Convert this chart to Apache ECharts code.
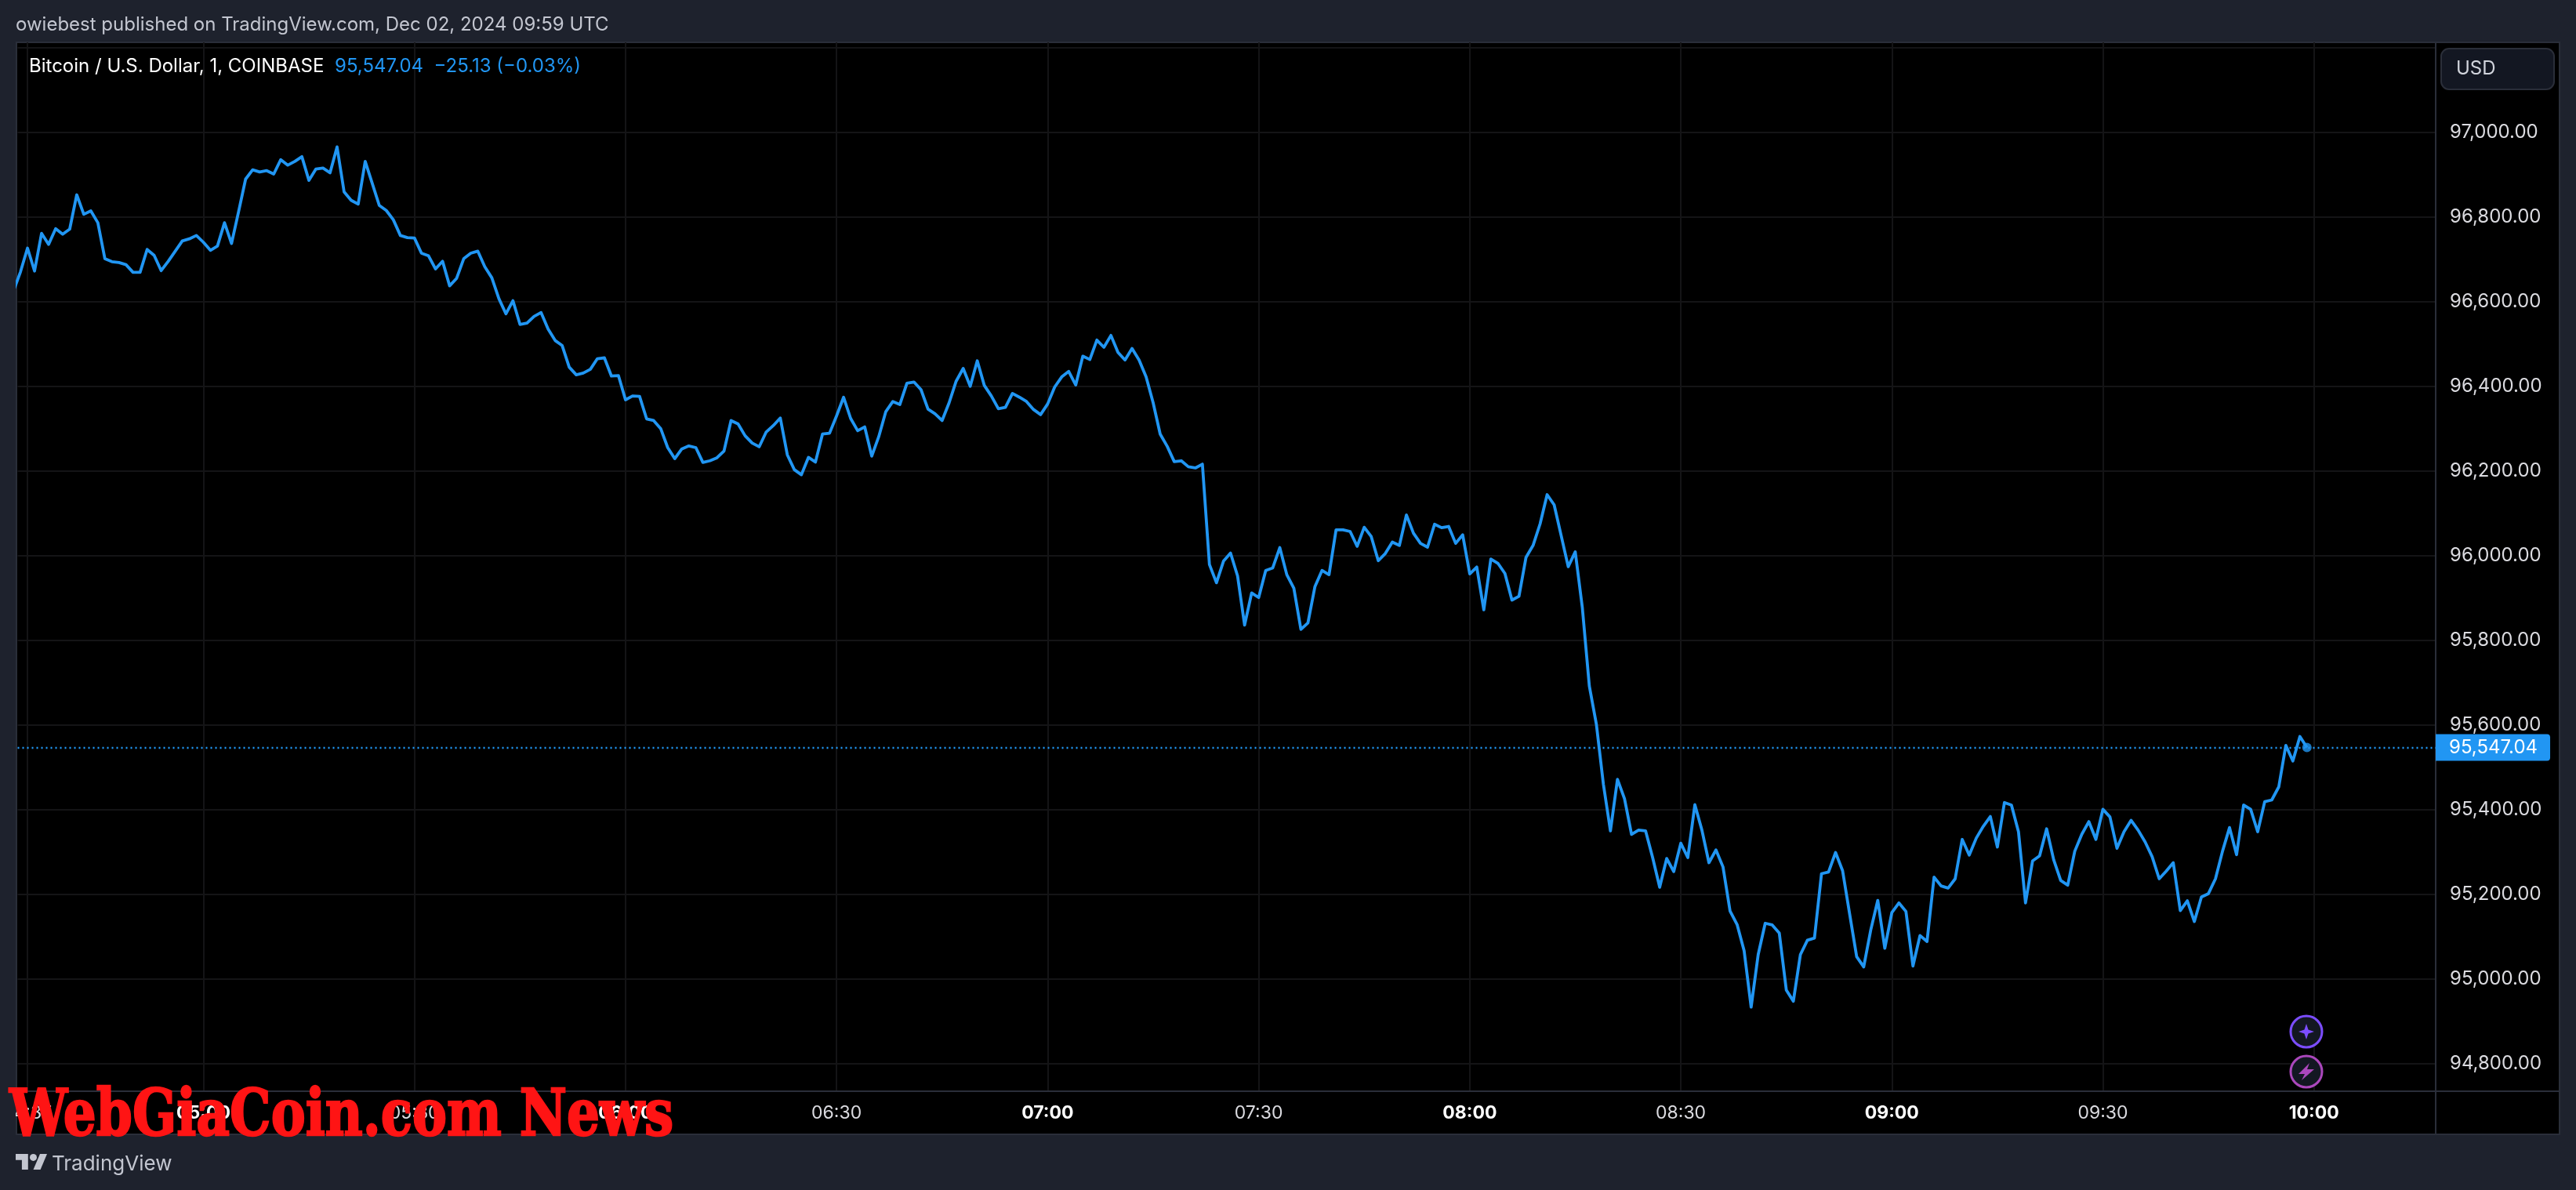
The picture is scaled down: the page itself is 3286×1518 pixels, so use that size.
<!DOCTYPE html>
<html>
<head>
<meta charset="utf-8">
<title>Bitcoin / U.S. Dollar</title>
<style>
  html, body { margin: 0; padding: 0; background: #1e222d; }
  #chart { width: 3286px; height: 1518px; }
</style>
<script src="https://cdn.jsdelivr.net/npm/echarts@6/dist/echarts.min.js"></script>
</head>
<body>
<div id="chart"></div>
<script>
"use strict";

// 1 minute closes, one array per hour.
var closes04 = [96625, 96670, 96726, 96672, 96761, 96735, 96772, 96759, 96771, 96852, 96806, 96814, 96786, 96701,
  96694, 96692, 96687, 96669, 96669, 96723, 96709, 96673, 96695, 96719, 96743, 96748, 96756];
var closes05 = [96740, 96721, 96731, 96786, 96737, 96812, 96889, 96911, 96906, 96909,
  96901, 96935, 96922, 96931, 96942, 96886, 96913, 96915, 96904, 96965,
  96859, 96839, 96830, 96931, 96879, 96827, 96815, 96793, 96756, 96751,
  96750, 96714, 96708, 96677, 96695, 96637, 96655, 96701, 96714, 96719,
  96682, 96656, 96607, 96571, 96602, 96546, 96549, 96565, 96574, 96535,
  96508, 96496, 96445, 96427, 96431, 96440, 96465, 96467, 96424, 96425];
var closes06 = [96368, 96377, 96376, 96323, 96319, 96300, 96255, 96229, 96252, 96259,
  96255, 96220, 96224, 96231, 96247, 96319, 96311, 96283, 96266, 96257,
  96292, 96307, 96325, 96238, 96203, 96191, 96232, 96221, 96287, 96289,
  96330, 96374, 96324, 96295, 96304, 96235, 96281, 96340, 96364, 96357,
  96407, 96410, 96392, 96346, 96335, 96319, 96361, 96412, 96442, 96400,
  96460, 96402, 96377, 96347, 96350, 96383, 96374, 96364, 96345, 96333];
var closes07 = [96358, 96398, 96422, 96435, 96403, 96471, 96463, 96509, 96492, 96520,
  96480, 96462, 96489, 96462, 96422, 96361, 96287, 96258, 96222, 96224,
  96210, 96207, 96216, 95979, 95936, 95987, 96006, 95952, 95836, 95912,
  95901, 95965, 95971, 96019, 95955, 95923, 95826, 95841, 95927, 95965,
  95955, 96061, 96061, 96057, 96022, 96067, 96045, 95988, 96005, 96032,
  96024, 96096, 96053, 96029, 96020, 96074, 96066, 96069, 96029, 96049];
var closes08 = [95957, 95973, 95872, 95992, 95982, 95958, 95895, 95904, 95996, 96024,
  96075, 96144, 96120, 96047, 95974, 96009, 95878, 95692, 95602, 95460,
  95350, 95472, 95426, 95342, 95352, 95350, 95287, 95217, 95285, 95254,
  95321, 95287, 95412, 95352, 95275, 95305, 95265, 95161, 95129, 95067,
  94934, 95058, 95132, 95128, 95109, 94974, 94948, 95058, 95092, 95097,
  95249, 95253, 95299, 95256, 95154, 95053, 95029, 95116, 95186, 95073];
var closes09 = [95157, 95180, 95160, 95031, 95103, 95089, 95241, 95220, 95215, 95237,
  95330, 95293, 95333, 95361, 95384, 95312, 95417, 95411, 95348, 95180,
  95279, 95291, 95355, 95282, 95233, 95222, 95302, 95342, 95372, 95330,
  95401, 95383, 95309, 95348, 95375, 95352, 95324, 95289, 95237, 95255,
  95275, 95162, 95185, 95136, 95194, 95202, 95237, 95302, 95358, 95294,
  95411, 95401, 95348, 95419, 95423, 95454, 95552, 95515, 95573, 95547.04];

var firstMinute = 4 * 60 + 33;
var lastClose = 95547.04;
var lastCloseLabel = '95,547.04';

// Axis ticks, time is minutes since midnight UTC.
var timeTicks = [275, 300, 330, 360, 390, 420, 450, 480, 510, 540, 570, 600];
var gridPrices = [94800, 95000, 95200, 95400, 95600, 95800, 96000, 96200, 96400, 96600, 96800, 97000, 97200];
var labelPrices = [94800, 95000, 95200, 95400, 95600, 95800, 96000, 96200, 96400, 96600, 96800, 97000];

var publishedText = 'owiebest published on TradingView.com, Dec 02, 2024 09:59 UTC';
var symbolText = 'Bitcoin / U.S. Dollar, 1, COINBASE';
var quoteText = '95,547.04  \u221225.13 (\u22120.03%)';
var watermarkText = 'WebGiaCoin.com News';

var BLUE = '#2196f3';
var FRAME = '#2a2e39';
var GRIDLINE = '#141416';
var SANS = 'Inter, "Noto Sans", sans-serif';

var closes = closes04.concat(closes05, closes06, closes07, closes08, closes09);
var linePoints = closes.map(function (close, i) {
  return [firstMinute + i, close];
});
var lastPoint = linePoints[linePoints.length - 1];

function pad(n) {
  return (n < 10 ? '0' : '') + n;
}

function formatTime(minutes) {
  var text = pad(Math.floor(minutes / 60)) + ':' + pad(minutes % 60);
  return minutes % 60 === 0 ? '{hour|' + text + '}' : '{plain|' + text + '}';
}

function formatPrice(value) {
  return value.toLocaleString('en-US', { minimumFractionDigits: 2, maximumFractionDigits: 2 });
}

function frameLine(x1, y1, x2, y2, z) {
  return {
    type: 'line',
    z: z,
    silent: true,
    shape: { x1: x1, y1: y1, x2: x2, y2: y2 },
    style: { stroke: FRAME, lineWidth: 2 }
  };
}

function badge(cy, ringColor, glyphPoints) {
  return [{
    type: 'circle',
    z: 30,
    shape: { cx: 2942, cy: cy, r: 20 },
    style: { fill: '#131722', stroke: ringColor, lineWidth: 3 }
  }, {
    type: 'polygon',
    z: 31,
    shape: {
      points: glyphPoints.map(function (p) {
        return [2942 + p[0], cy + p[1]];
      })
    },
    style: { fill: ringColor }
  }];
}

var starGlyph = [[0, -10], [2.5, -2.5], [10, 0], [2.5, 2.5], [0, 10], [-2.5, 2.5], [-10, 0], [-2.5, -2.5]];
var boltGlyph = [[4, -11], [-10, 3], [-2, 3], [-6, 11], [10, -3], [1, -3]];

var graphicElements = [
  // panel behind chart and both axis strips
  {
    type: 'rect',
    z: -10,
    shape: { x: 21, y: 54, width: 3244, height: 1393 },
    style: { fill: '#000000', stroke: FRAME, lineWidth: 2 }
  },
  frameLine(3107, 1392, 3107, 1447, 5),
  frameLine(3107, 1392, 3265, 1392, 5),
  // hides the part of the first time label that runs off the panel
  {
    type: 'rect',
    z: 20,
    shape: { x: 0, y: 1395, width: 20, height: 50 },
    style: { fill: '#1e222d' }
  },
  {
    type: 'text',
    z: 40,
    x: 20,
    y: 32,
    style: { text: publishedText, fill: '#c3c6d0', font: '400 24px ' + SANS, textVerticalAlign: 'middle' }
  },
  {
    type: 'text',
    z: 40,
    x: 37,
    y: 85,
    style: { text: symbolText, fill: '#ffffff', font: '400 24px ' + SANS, textVerticalAlign: 'middle' }
  },
  {
    type: 'text',
    z: 40,
    x: 427,
    y: 85,
    style: { text: quoteText, fill: BLUE, font: '400 24px ' + SANS, textVerticalAlign: 'middle' }
  },
  // currency button
  {
    type: 'rect',
    z: 10,
    shape: { x: 3114, y: 62, width: 144, height: 52, r: 10 },
    style: { fill: '#131722', stroke: FRAME, lineWidth: 2 }
  },
  {
    type: 'text',
    z: 11,
    x: 3133,
    y: 88,
    style: { text: 'USD', fill: '#d1d4dc', font: '400 24px ' + SANS, textVerticalAlign: 'middle' }
  },
  // footer logo and name
  {
    type: 'polygon',
    z: 40,
    shape: { points: [[20, 1472], [35.8, 1472], [35.8, 1492], [27.9, 1492], [27.9, 1479.8], [20, 1479.8]] },
    style: { fill: '#c3c6d0' }
  },
  {
    type: 'polygon',
    z: 40,
    shape: { points: [[51.6, 1492], [42.5, 1492], [51, 1472], [60, 1472]] },
    style: { fill: '#c3c6d0' }
  },
  {
    type: 'circle',
    z: 40,
    shape: { cx: 42.5, cy: 1476.4, r: 4.5 },
    style: { fill: '#c3c6d0' }
  },
  {
    type: 'text',
    z: 40,
    x: 66,
    y: 1485,
    style: { text: 'TradingView', fill: '#c3c6d0', font: '400 26px ' + SANS, textVerticalAlign: 'middle' }
  },
  {
    type: 'text',
    z: 50,
    x: 12,
    y: 1427,
    scaleX: 0.805,
    style: {
      text: watermarkText,
      fill: '#ff1414',
      stroke: '#ff1414',
      lineWidth: 2.5,
      font: '700 82px "DejaVu Serif", serif',
      textVerticalAlign: 'middle'
    }
  }
].concat(
  badge(1316, '#7c4dff', starGlyph),
  badge(1367, '#ab47bc', boltGlyph)
);

var chart = echarts.init(document.getElementById('chart'), null, { renderer: 'canvas' });
chart.setOption({
  animation: false,
  backgroundColor: '#1e222d',
  grid: { left: 21, top: 54, width: 3086, height: 1338, containLabel: false },
  xAxis: {
    type: 'value',
    min: 273.6,
    max: 617.3,
    axisLine: { show: true, onZero: false, lineStyle: { color: FRAME, width: 2 } },
    axisTick: { show: false, customValues: timeTicks },
    splitLine: { show: true, lineStyle: { color: GRIDLINE, width: 2 } },
    axisLabel: {
      customValues: timeTicks,
      margin: 17,
      formatter: formatTime,
      rich: {
        hour: { color: '#ffffff', fontFamily: SANS, fontSize: 23, fontWeight: 700 },
        plain: { color: '#dbdbe0', fontFamily: SANS, fontSize: 23, fontWeight: 400 }
      }
    }
  },
  yAxis: {
    type: 'value',
    position: 'right',
    min: 94735.4,
    max: 97212,
    axisLine: { show: true, onZero: false, lineStyle: { color: FRAME, width: 2 } },
    axisTick: { show: false, customValues: gridPrices },
    splitLine: { show: true, lineStyle: { color: GRIDLINE, width: 2 } },
    axisLabel: {
      customValues: labelPrices,
      margin: 18,
      color: '#dbdbe0',
      fontFamily: SANS,
      fontSize: 24,
      formatter: formatPrice
    }
  },
  series: [{
    type: 'line',
    data: linePoints,
    showSymbol: false,
    clip: true,
    z: 5,
    lineStyle: { color: BLUE, width: 3.8, join: 'round' },
    markLine: {
      silent: true,
      symbol: 'none',
      animation: false,
      lineStyle: { color: BLUE, type: [2, 4], width: 2.4 },
      label: {
        show: true,
        position: 'end',
        distance: 0,
        formatter: lastCloseLabel,
        color: '#ffffff',
        fontFamily: SANS,
        fontSize: 24,
        backgroundColor: BLUE,
        padding: [5, 16, 5, 17],
        borderRadius: [0, 4, 4, 0]
      },
      data: [{ yAxis: lastClose }]
    }
  }, {
    type: 'scatter',
    data: [lastPoint],
    symbol: 'circle',
    symbolSize: 12,
    z: 6,
    itemStyle: { color: BLUE }
  }],
  graphic: { elements: graphicElements }
});
</script>
</body>
</html>
